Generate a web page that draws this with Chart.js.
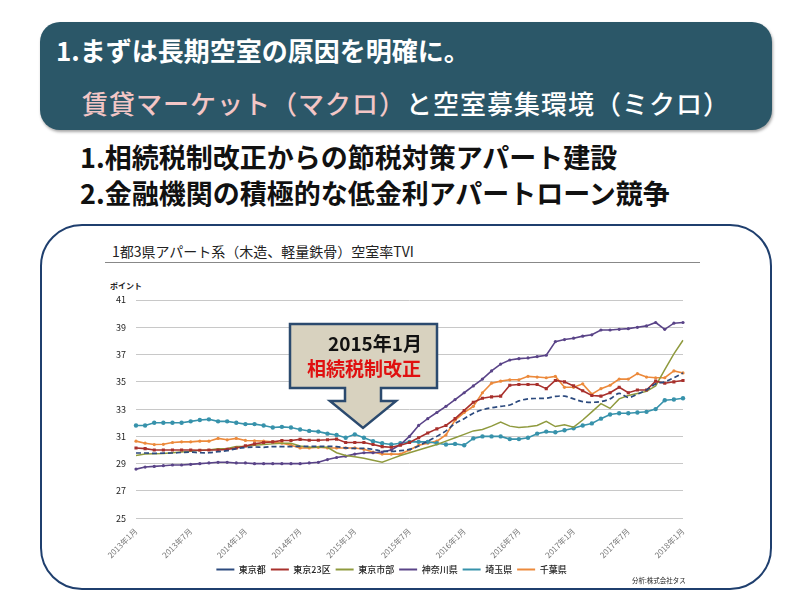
<!DOCTYPE html>
<html lang="ja">
<head>
<meta charset="utf-8">
<script src="https://cdn.jsdelivr.net/npm/chart.js@4.4.1/dist/chart.umd.min.js"></script>
<style>
  html, body { margin: 0; padding: 0; background: #fff; }
  body { width: 800px; height: 600px; position: relative; overflow: hidden; font-family: "Noto Sans CJK JP", "Noto Sans", sans-serif; }
  .abs { position: absolute; white-space: nowrap; }
  #header { left: 40px; top: 22px; width: 732px; height: 108px; background: #2b5768; border-radius: 20px; box-shadow: 1px 2px 3px rgba(0,0,0,0.35); }
  #h1 { left: 56px; top: 32px; font-size: 26px; font-weight: 700; color: #fff; line-height: 36px; }
  #h2 { left: 82px; top: 85px; font-size: 26px; font-weight: 500; color: #fff; line-height: 36px; letter-spacing: 1px; }
  #h2 .pink { color: #f3c6c6; }
  .bullet { left: 80px; font-size: 27px; font-weight: 700; color: #111; line-height: 36px; }
  #panel { left: 40px; top: 224px; width: 728px; height: 362px; border: 2px solid #1f3f6e; border-radius: 42px; }
  #title { left: 112px; top: 241px; font-size: 14px; color: #222; line-height: 20px; }
  #titleRule { left: 105px; top: 262px; width: 595px; height: 1px; background: #888; }
  #unit { left: 110px; top: 280px; font-size: 8px; color: #222; font-weight: 700; }
  #source { left: 632px; top: 575px; font-size: 6.5px; color: #222; }
  #chartBox { left: 100px; top: 280px; width: 600px; height: 304px; }
  #callText1 { left: 290px; top: 331px; width: 148px; text-align: center; font-size: 19px; font-weight: 700; color: #111; line-height: 24px; padding-left: 22px; box-sizing: border-box; }
  #callText2 { left: 290px; top: 356px; width: 148px; text-align: center; font-size: 19px; font-weight: 700; color: #e01010; line-height: 24px; }
</style>
</head>
<body>
<div id="header" class="abs"></div>
<div id="h1" class="abs">1.まずは長期空室の原因を明確に。</div>
<div id="h2" class="abs"><span class="pink">賃貸マーケット（マクロ）</span>と空室募集環境（ミクロ）</div>
<div class="abs bullet" style="top:139px">1.相続税制改正からの節税対策アパート建設</div>
<div class="abs bullet" style="top:175px">2.金融機関の積極的な低金利アパートローン競争</div>

<div id="panel" class="abs"></div>
<div id="title" class="abs">1都3県アパート系（木造、軽量鉄骨）空室率TVI</div>
<div id="titleRule" class="abs"></div>
<div id="unit" class="abs">ポイント</div>
<div id="chartBox" class="abs"><canvas id="tviChart" width="600" height="304"></canvas></div>
<svg class="abs" style="left:0;top:0" width="800" height="600">
  <path d="M290 324 H437 V388 H381 V401 H396 L363 428 L330 401 H345 V388 H290 Z"
        fill="#d8d2bf" stroke="#2b4a6e" stroke-width="2.5" stroke-linejoin="miter"/>
</svg>
<div id="callText1" class="abs">2015年1月</div>
<div id="callText2" class="abs">相続税制改正</div>
<div id="source" class="abs">分析:株式会社タス</div>

<script>
const TICK_LABELS = ['2013年1月', '2013年7月', '2014年1月', '2014年7月', '2015年1月', '2015年7月',
                     '2016年1月', '2016年7月', '2017年1月', '2017年7月', '2018年1月'];
const MONTH_COUNT = 61; // 2013年1月 .. 2018年1月

const tokyo = [29.78, 29.78, 29.75, 29.77, 29.78, 29.82, 29.85, 29.8, 29.8, 29.88, 29.95, 30.1, 30.18, 30.22, 30.2,
  30.25, 30.25, 30.25, 30.27, 30.27, 30.27, 30.27, 30.25, 30.15, 30.12, 30.12, 30.05, 29.92, 29.9, 29.95,
  30.05, 30.3, 30.65, 31.0, 31.4, 31.95, 32.3, 32.7, 32.95, 33.1, 33.2, 33.3, 33.6, 33.75, 33.78,
  33.8, 33.93, 33.95, 33.75, 33.55, 33.5, 33.55, 33.75, 34.15, 33.85, 34.1, 34.4, 34.85, 35.0, 35.3, 35.65];

const tokyo23 = [30.15, 30.1, 30.0, 30.0, 30.0, 30.0, 30.0, 29.98, 30.0, 30.0, 30.05, 30.15, 30.3, 30.45, 30.55,
  30.6, 30.7, 30.7, 30.78, 30.72, 30.72, 30.75, 30.8, 30.55, 30.55, 30.55, 30.4, 30.25, 30.2, 30.35,
  30.55, 30.9, 31.25, 31.55, 31.8, 32.3, 32.9, 33.5, 33.8, 33.9, 33.95, 34.75, 34.8, 34.8, 34.8,
  34.5, 35.1, 35.0, 34.7, 34.35, 34.0, 33.95, 34.2, 34.6, 34.2, 34.4, 34.4, 35.05, 34.9, 35.0, 35.1];

const tokyoCities = [29.6, 29.7, 29.72, 29.75, 29.8, 29.85, 29.9, 29.98, 30.0, 30.1, 30.12, 30.25, 30.25, 30.35, 30.4,
  30.45, 30.5, 30.5, 30.3, 30.2, 30.22, 30.2, 29.8, 29.6, 29.5, 29.4, 29.25, 29.1, 29.35, 29.6,
  29.8, 30.0, 30.2, 30.4, 30.65, 30.9, 31.15, 31.4, 31.5, 31.75, 32.05, 31.75, 31.65, 31.7, 31.8,
  32.1, 31.72, 31.85, 31.68, 32.2, 32.8, 33.4, 33.05, 33.75, 34.0, 34.15, 34.3, 34.7, 35.9, 37.05, 38.05];

const kanagawa = [28.6, 28.75, 28.8, 28.85, 28.9, 28.9, 28.95, 29.0, 29.05, 29.1, 29.1, 29.05, 29.05, 29.0, 29.0,
  29.0, 29.0, 29.0, 29.0, 29.05, 29.1, 29.3, 29.45, 29.55, 29.7, 29.8, 29.8, 29.85, 30.0, 30.4,
  31.0, 31.8, 32.3, 32.75, 33.2, 33.7, 34.2, 34.7, 35.2, 35.8, 36.3, 36.6, 36.7, 36.75, 36.85,
  36.95, 37.95, 38.1, 38.2, 38.35, 38.45, 38.8, 38.8, 38.85, 38.9, 39.0, 39.1, 39.35, 38.85, 39.3, 39.35];

const saitama = [31.8, 31.8, 32.0, 32.0, 32.0, 32.0, 32.1, 32.2, 32.25, 32.1, 32.1, 32.0, 31.9, 31.9, 31.8,
  31.65, 31.7, 31.65, 31.5, 31.4, 31.35, 31.2, 31.1, 30.9, 31.15, 30.9, 30.65, 30.5, 30.4, 30.5,
  30.6, 30.6, 30.6, 30.5, 30.4, 30.45, 30.35, 30.85, 31.0, 31.0, 31.0, 30.8, 30.8, 30.9, 31.2,
  31.35, 31.3, 31.45, 31.6, 31.8, 31.95, 32.3, 32.6, 32.7, 32.7, 32.75, 32.8, 33.0, 33.65, 33.7, 33.8];

const chiba = [30.65, 30.5, 30.4, 30.42, 30.55, 30.6, 30.6, 30.65, 30.65, 30.85, 30.75, 30.85, 30.7, 30.68, 30.65,
  30.6, 30.5, 30.35, 30.15, 30.15, 30.2, 30.15, 30.15, 30.15, 30.15, 30.05, 29.85, 29.7, 29.7, 29.7,
  30.0, 30.35, 30.5, 30.65, 31.1, 32.2, 32.75, 33.2, 34.2, 34.9, 35.05, 35.15, 35.15, 35.4, 35.35,
  35.3, 35.4, 34.6, 34.6, 34.85, 34.1, 34.5, 34.75, 35.2, 35.2, 35.6, 35.35, 35.3, 35.3, 35.8, 35.65];

// category labels: only every 6th month carries text
const labels = [];
for (let i = 0; i < MONTH_COUNT; i++) {
  labels.push(i % 6 === 0 ? TICK_LABELS[i / 6] : '');
}

function series(label, data, color, extra) {
  return Object.assign({
    label: label,
    data: data,
    borderColor: color,
    backgroundColor: color,
    borderWidth: 1.6,
    pointRadius: 1.8,
    pointBorderWidth: 0,
    tension: 0
  }, extra);
}

const ctx = document.getElementById('tviChart').getContext('2d');
new Chart(ctx, {
  type: 'line',
  data: {
    labels: labels,
    datasets: [
      series('東京都', tokyo, '#2c4a7e', { borderDash: [5, 3], pointRadius: 0, borderWidth: 1.7, tension: 0.35 }),
      series('東京23区', tokyo23, '#a8302c', { pointStyle: 'rect', pointRadius: 2.2 }),
      series('東京市部', tokyoCities, '#8f9a3e', { pointRadius: 0, borderWidth: 1.5 }),
      series('神奈川県', kanagawa, '#5a4488', { pointRadius: 1.6 }),
      series('埼玉県', saitama, '#3792ab', { pointRadius: 2.2 }),
      series('千葉県', chiba, '#ec8a3c', { pointRadius: 1.6 })
    ]
  },
  options: {
    responsive: false,
    animation: false,
    layout: { padding: { top: 20, right: 17, left: 0, bottom: 0 } },
    plugins: {
      tooltip: { enabled: false },
      legend: {
        position: 'bottom',
        labels: {
          usePointStyle: true,
          pointStyleWidth: 18,
          boxHeight: 8,
          padding: 5,
          color: '#222',
          font: { family: '"Noto Sans CJK JP"', size: 9, weight: '500' },
          generateLabels(chart) {
            const items = Chart.defaults.plugins.legend.labels.generateLabels(chart);
            items.forEach(it => { it.pointStyle = 'line'; it.lineWidth = 2; it.lineDash = []; });
            return items;
          }
        }
      }
    },
    scales: {
      x: {
        grid: { display: false },
        border: { display: false },
        ticks: {
          autoSkip: false,
          minRotation: 45,
          maxRotation: 45,
          padding: 0,
          color: '#777',
          font: { family: '"Noto Sans CJK JP"', size: 8 }
        }
      },
      y: {
        min: 25,
        max: 41,
        afterFit(scale) { scale.width = 36; },
        border: { display: false },
        grid: { color: '#c8c8c8', lineWidth: 1, drawTicks: false },
        ticks: {
          stepSize: 2,
          padding: 10,
          color: '#222',
          font: { family: '"Noto Sans CJK JP"', size: 9 }
        }
      }
    }
  }
});
</script>
</body>
</html>
